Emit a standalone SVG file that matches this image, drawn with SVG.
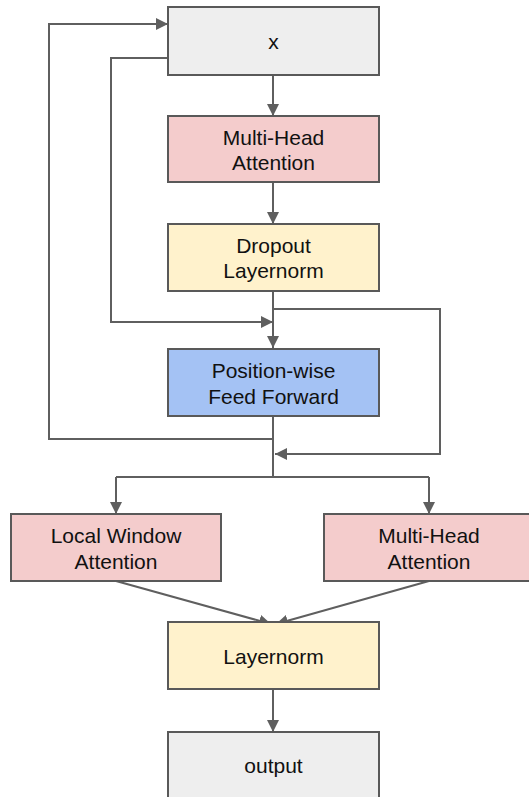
<svg xmlns="http://www.w3.org/2000/svg" width="529" height="797" viewBox="0 0 529 797">
  <style>
    .box { stroke: #595959; stroke-width: 2; }
    .grey { fill: #eeeeee; }
    .red { fill: #f4cccc; }
    .yellow { fill: #fff2cc; }
    .blue { fill: #a4c2f4; }
    .label { font-family: "Liberation Sans", Arial, sans-serif; font-size: 21px; fill: #111111; text-anchor: middle; }
    .conn { fill: none; stroke: #5f5f5f; stroke-width: 2; }
  </style>
  <defs>
    <marker id="arrow" markerUnits="userSpaceOnUse" markerWidth="12" markerHeight="12" refX="12" refY="6" orient="auto" viewBox="0 0 12 12">
      <path d="M0,0 L12,6 L0,12 z" fill="#5f5f5f"/>
    </marker>
  </defs>
  <rect width="529" height="797" fill="#ffffff"/>

  <g id="connectors">
    <path class="conn" d="M273,75 V116" marker-end="url(#arrow)"/>
    <path class="conn" d="M273,182 V224" marker-end="url(#arrow)"/>
    <path class="conn" d="M273,291 V348" marker-end="url(#arrow)"/>
    <path class="conn" d="M168,58 H111 V322 H273" marker-end="url(#arrow)"/>
    <path class="conn" d="M273,309 H440 V454 H275" marker-end="url(#arrow)"/>
    <path class="conn" d="M273,416 V477"/>
    <path class="conn" d="M273,439 H49 V24 H168" marker-end="url(#arrow)"/>
    <path class="conn" d="M116,477 H429"/>
    <path class="conn" d="M116,477 V514" marker-end="url(#arrow)"/>
    <path class="conn" d="M429,477 V514" marker-end="url(#arrow)"/>
    <path class="conn" d="M116,581 L271,624" marker-end="url(#arrow)"/>
    <path class="conn" d="M429,581 L276,624" marker-end="url(#arrow)"/>
    <path class="conn" d="M273,689 V732" marker-end="url(#arrow)"/>
  </g>

  <g id="node-x">
    <rect class="box grey" x="168" y="7" width="211" height="68"/>
    <text class="label" x="273.5" y="49">x</text>
  </g>
  <g id="node-mha1">
    <rect class="box red" x="168" y="116" width="211" height="66"/>
    <text class="label" x="273.5" y="144.5">Multi-Head</text>
    <text class="label" x="273.5" y="169.5">Attention</text>
  </g>
  <g id="node-dropout">
    <rect class="box yellow" x="168" y="224" width="211" height="67"/>
    <text class="label" x="273.5" y="253">Dropout</text>
    <text class="label" x="273.5" y="278">Layernorm</text>
  </g>
  <g id="node-ff">
    <rect class="box blue" x="168" y="349" width="211" height="67"/>
    <text class="label" x="273.5" y="378">Position-wise</text>
    <text class="label" x="273.5" y="403.5">Feed Forward</text>
  </g>
  <g id="node-lwa">
    <rect class="box red" x="11" y="514" width="210" height="67"/>
    <text class="label" x="116" y="543">Local Window</text>
    <text class="label" x="116" y="568.5">Attention</text>
  </g>
  <g id="node-mha2">
    <rect class="box red" x="324" y="514" width="210" height="67"/>
    <text class="label" x="429" y="543">Multi-Head</text>
    <text class="label" x="429" y="568.5">Attention</text>
  </g>
  <g id="node-layernorm">
    <rect class="box yellow" x="168" y="622" width="211" height="67"/>
    <text class="label" x="273.5" y="664">Layernorm</text>
  </g>
  <g id="node-output">
    <rect class="box grey" x="168" y="732" width="211" height="67"/>
    <text class="label" x="273.5" y="773">output</text>
  </g>
</svg>
